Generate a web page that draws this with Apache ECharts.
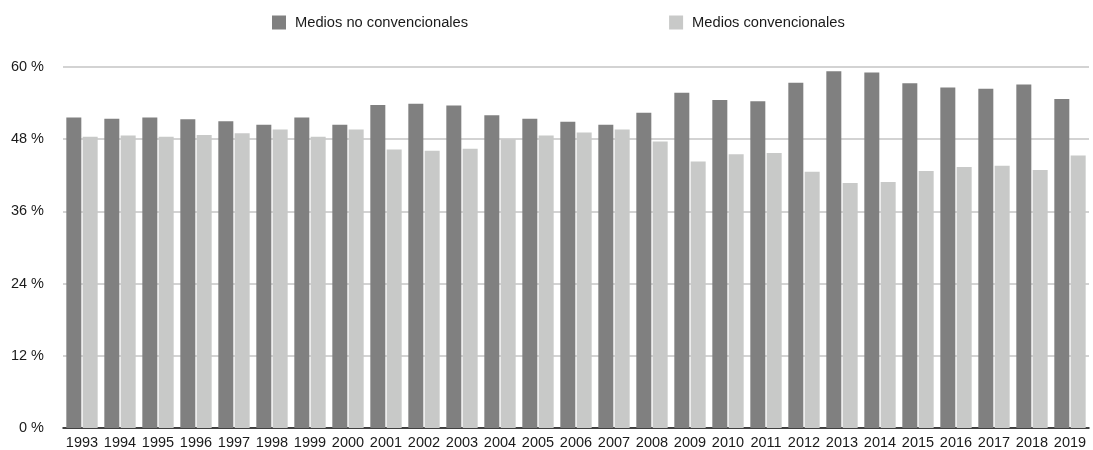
<!DOCTYPE html>
<html>
<head>
<meta charset="utf-8">
<script src="https://cdn.jsdelivr.net/npm/echarts@6/dist/echarts.min.js"></script>
<style>
  html, body { margin: 0; padding: 0; background: #fff; }
  #chart { width: 1093px; height: 450px; }
</style>
</head>
<body>
<div id="chart"></div>
<script>
// Share of advertising investment by media type, 1993–2019 (%)
const years = ['1993','1994','1995','1996','1997','1998','1999','2000','2001','2002','2003','2004','2005','2006','2007','2008','2009','2010','2011','2012','2013','2014','2015','2016','2017','2018','2019'];
const noConvencionales = [51.6, 51.4, 51.6, 51.3, 51.0, 50.4, 51.6, 50.4, 53.7, 53.9, 53.6, 52.0, 51.4, 50.9, 50.4, 52.4, 55.7, 54.5, 54.3, 57.4, 59.3, 59.1, 57.3, 56.6, 56.4, 57.1, 54.7];
const convencionales   = [48.4, 48.6, 48.4, 48.7, 49.0, 49.6, 48.4, 49.6, 46.3, 46.1, 46.4, 48.0, 48.6, 49.1, 49.6, 47.6, 44.3, 45.5, 45.7, 42.6, 40.7, 40.9, 42.7, 43.4, 43.6, 42.9, 45.3];
const yTicks = [0, 12, 24, 36, 48, 60];

const font = 'Helvetica, Arial, "Liberation Sans", sans-serif';
const chart = echarts.init(document.getElementById('chart'), null, { renderer: 'canvas' });

chart.setOption({
  animation: false,
  textStyle: { fontFamily: font },
  legend: {
    left: 267,
    top: 10,
    itemWidth: 14,
    itemHeight: 14,
    itemGap: 201,
    icon: 'rect',
    textStyle: { fontFamily: font, fontSize: 14.7, color: '#1a1a1a', padding: [0, 0, 0, 4] },
    data: ['Medios no convencionales', 'Medios convencionales']
  },
  grid: { left: 63, right: 4, top: 67, bottom: 21, containLabel: false },
  xAxis: {
    type: 'category',
    data: years,
    axisLine: { lineStyle: { color: '#111', width: 1.5 } },
    axisTick: { show: false },
    axisLabel: { fontFamily: font, fontSize: 14.5, color: '#1a1a1a', margin: 7, interval: 0 }
  },
  yAxis: {
    type: 'value',
    min: yTicks[0],
    max: yTicks[yTicks.length - 1],
    interval: 12,
    axisLine: { show: false },
    axisTick: { show: false },
    splitLine: { lineStyle: { color: '#c4c4c4', width: 1.5 } },
    axisLabel: {
      fontFamily: font, fontSize: 14.5, color: '#1a1a1a', margin: 19,
      formatter: v => v + ' %'
    }
  },
  series: [
    {
      name: 'Medios no convencionales',
      type: 'bar',
      data: noConvencionales,
      barWidth: 15,
      barGap: '9%',
      itemStyle: { color: '#808080' }
    },
    {
      name: 'Medios convencionales',
      type: 'bar',
      data: convencionales,
      barWidth: 15,
      itemStyle: { color: '#c8c9c8' }
    }
  ]
});
</script>
</body>
</html>
